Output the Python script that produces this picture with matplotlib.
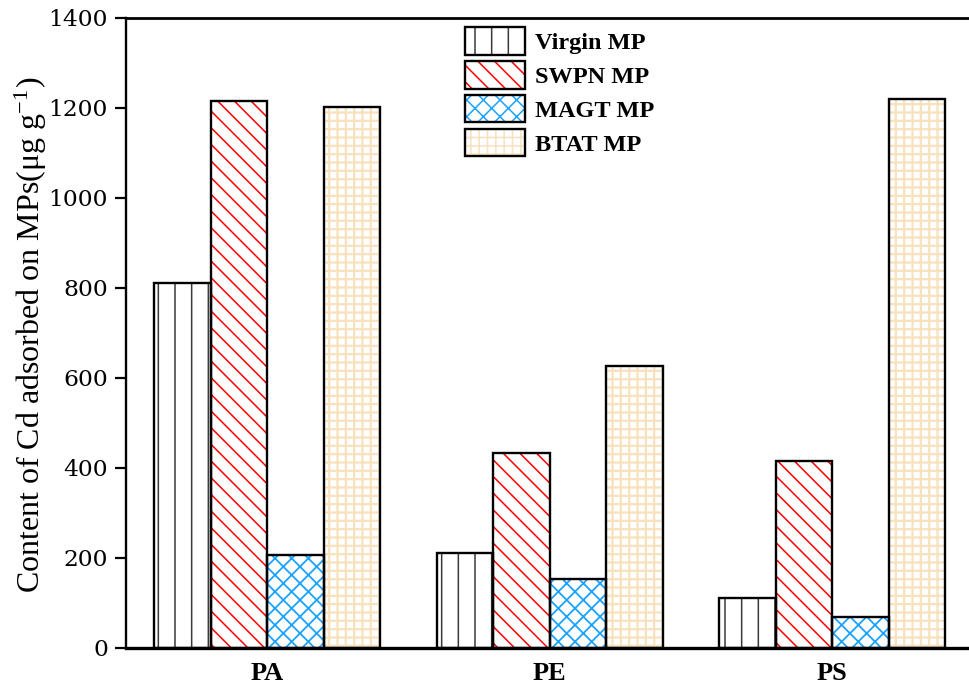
import matplotlib
matplotlib.use("Agg")
import matplotlib.pyplot as plt
import numpy as np
from matplotlib.patches import Patch
from matplotlib.legend_handler import HandlerTuple

categories = ["PA", "PE", "PS"]
series_names = ["Virgin MP", "SWPN MP", "MAGT MP", "BTAT MP"]
virgin = [811, 211, 111]
swpn = [1216, 433, 416]
magt = [207, 153, 69]
btat = [1202, 627, 1220]
yticks = [0, 200, 400, 600, 800, 1000, 1200, 1400]

values = [virgin, swpn, magt, btat]
hatches = ["|", "\\\\", "xx", "++"]
hatch_colors = ["#3a3a3a", "#ff0000", "#1aa3ff", "#f7e2bd"]
hatch_lws = [1.1, 1.1, 1.3, 1.6]

plt.rcParams["font.family"] = ["Liberation Serif", "DejaVu Serif"]
plt.rcParams["mathtext.fontset"] = "stix"
plt.rcParams["hatch.linewidth"] = 1.1

fig = plt.figure(figsize=(9.7, 6.89), dpi=100)
ax = fig.add_axes([126 / 970, 41 / 689, (973.5 - 126) / 970, 630 / 689])

x = np.arange(len(categories))
width = 0.2
offsets = [-0.3, -0.1, 0.1, 0.3]
handles = []
for vals, off, h, hc, hlw, name in zip(values, offsets, hatches, hatch_colors, hatch_lws, series_names):
    with plt.rc_context({"hatch.linewidth": hlw}):
        ax.bar(x + off, vals, width, color="white", edgecolor=hc, hatch=h, linewidth=0, zorder=2)
        hp = Patch(facecolor="white", edgecolor=hc, hatch=h, linewidth=0)
    ax.bar(x + off, vals, width, fill=False, edgecolor="black", linewidth=1.7, zorder=3)
    handles.append((hp, Patch(fill=False, edgecolor="black", linewidth=1.7)))

ax.set_xlim(-0.5, 2.5)
ax.set_ylim(0, 1400)
ax.set_yticks(yticks)
ax.set_yticklabels([str(v) for v in yticks], family="DejaVu Serif", fontsize=16.8)
ax.set_xticks(x)
ax.set_xticklabels(categories, fontsize=19, fontweight="bold")
ax.tick_params(axis="x", length=0, pad=10)
ax.tick_params(axis="y", length=8, width=1.6, pad=5, direction="out")
ax.spines["right"].set_visible(False)
ax.spines["left"].set_linewidth(1.7)
ax.spines["top"].set_linewidth(2.0)
ax.spines["bottom"].set_linewidth(2.4)
ax.spines["bottom"].set_zorder(5)

ax.set_ylabel("Content of Cd adsorbed on MPs(μg g$^{\\mathregular{-1}}$)", fontsize=23)
ax.yaxis.set_label_coords(-0.0909, 0.497)

leg = fig.legend(handles, series_names,
                 handler_map={tuple: HandlerTuple(ndivide=1, pad=0)},
                 loc="upper left", bbox_to_anchor=(465 / 970, 1 - 27 / 689),
                 frameon=False, borderpad=0, borderaxespad=0,
                 handlelength=2.45, handleheight=1.37, labelspacing=0.26,
                 handletextpad=0.42, prop={"weight": "bold", "size": 17.5})

fig.savefig("out.png", dpi=100)
